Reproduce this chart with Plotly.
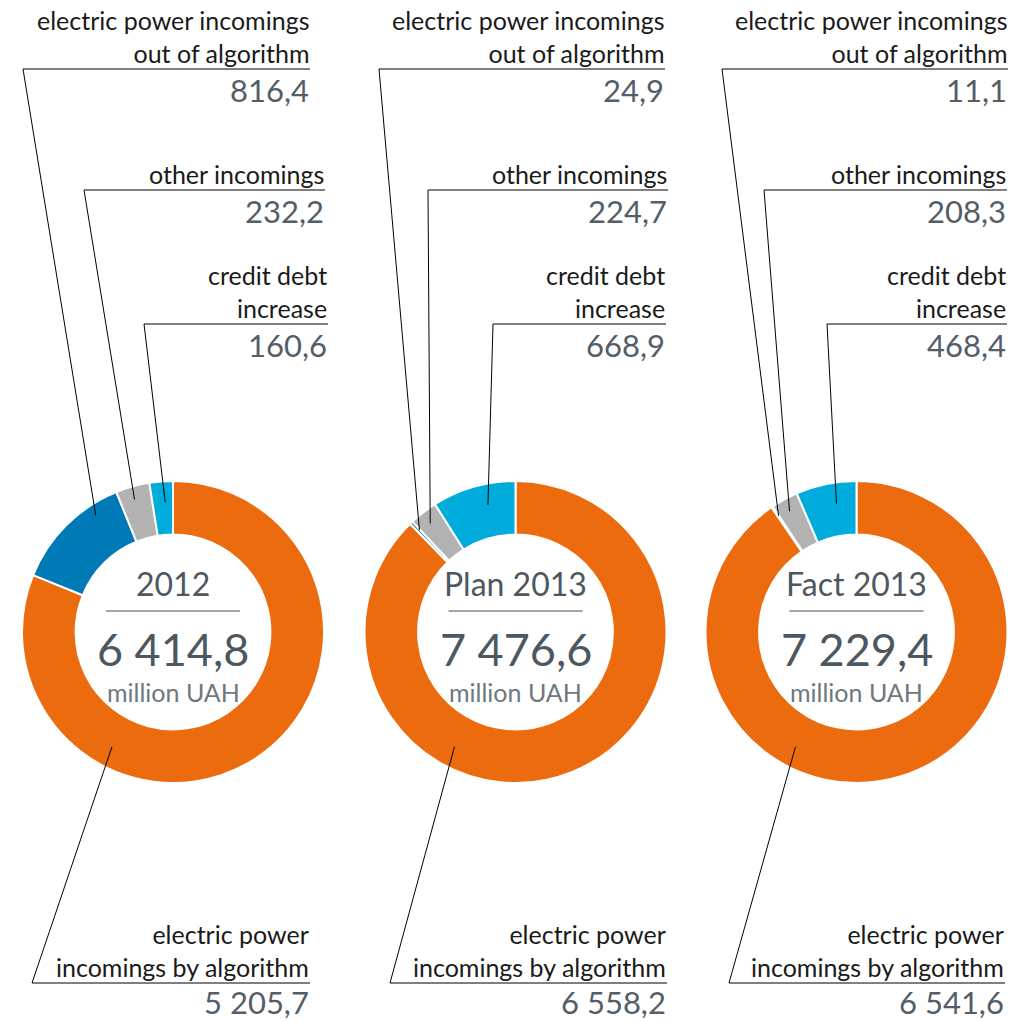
import math
import plotly.graph_objects as go

W, H = 1013, 1021

# ---------------- data ----------------
categories = [
    "electric power incomings by algorithm",
    "electric power incomings out of algorithm",
    "other incomings",
    "credit debt increase",
]
chart_titles = ["2012", "Plan 2013", "Fact 2013"]
chart_totals = [6414.8, 7476.6, 7229.4]
values_2012 = [5205.7, 816.4, 232.2, 160.6]
values_plan_2013 = [6558.2, 24.9, 224.7, 668.9]
values_fact_2013 = [6541.6, 11.1, 208.3, 468.4]
unit_label = "million UAH"
label_lines = [
    ["electric power", "incomings by algorithm"],
    ["electric power incomings", "out of algorithm"],
    ["other incomings"],
    ["credit debt", "increase"],
]

# ---------------- style / layout ----------------
slice_colors = ["#EC6B0E", "#0079B7", "#B1B2B1", "#00ACDB"]
FONT = "Lato"
TEXT_COLOR = "#1A1A1A"
VALUE_COLOR = "#535E68"
TITLE_COLOR = "#4C5760"
UNIT_COLOR = "#6E7880"
DIVIDER_COLOR = "#7E878F"

centers_x = [173, 515.5, 856.5]
center_y = 632
R_OUT = 151
HOLE = 0.645
LABEL_SIZE = 25
LINE_STEP = 1.3 * LABEL_SIZE
# per chart: right edge of labels [by algorithm, out of algorithm, other, credit]
right_edges = [[310, 310, 325, 328], [667, 665, 668, 666], [1005, 1008, 1007, 1007]]
# per chart: left end of underline (leader start)
underline_left = [[32, 23, 84, 144], [390, 379, 428, 493], [729, 722, 764, 827]]
underline_y = [983, 69, 190, 324]
value_offset = [19, 21, 21, 21]
ORANGE_LEADER_ANGLE = 208
# where along each slice (fraction of its sweep) and at what radius the leader ends
LEADER_FRAC = [None, 0.75, 0.45, 0.62]
LEADER_R = [130, 140, 138, 130]


def px(x):
    return x / W


def py(y):
    return 1 - y / H


def fmt(v):
    return f"{v:,.1f}".replace(",", " ").replace(".", ",")


fig = go.Figure()
annotations = []
shapes = []

all_values = [values_2012, values_plan_2013, values_fact_2013]

for c, vals in enumerate(all_values):
    cx = centers_x[c]
    fig.add_trace(go.Pie(
        values=vals,
        labels=categories,
        sort=False,
        direction="clockwise",
        rotation=0,
        hole=HOLE,
        marker=dict(colors=slice_colors, line=dict(color="white", width=2)),
        textinfo="none",
        hoverinfo="label+value",
        showlegend=False,
        domain=dict(x=[px(cx - R_OUT), px(cx + R_OUT)],
                    y=[py(center_y + R_OUT), py(center_y - R_OUT)]),
    ))

    # centre text
    annotations.append(dict(x=px(cx), y=py(583), text=chart_titles[c], showarrow=False,
                            xanchor="center", yanchor="middle",
                            font=dict(family=FONT, size=32, color=TITLE_COLOR)))
    annotations.append(dict(x=px(cx), y=py(649), text=fmt(chart_totals[c]), showarrow=False,
                            xanchor="center", yanchor="middle",
                            font=dict(family=FONT, size=45, color=TITLE_COLOR)))
    annotations.append(dict(x=px(cx), y=py(692), text=unit_label, showarrow=False,
                            xanchor="center", yanchor="middle",
                            font=dict(family=FONT, size=25, color=UNIT_COLOR)))
    shapes.append(dict(type="line", xref="paper", yref="paper",
                       x0=px(cx - 67), x1=px(cx + 67), y0=py(611), y1=py(611),
                       line=dict(color=DIVIDER_COLOR, width=1.5)))

    # slice angles (clockwise from 12 o'clock)
    total = sum(vals)
    start = 0.0
    starts, spans = [], []
    for v in vals:
        span = 360 * v / total
        starts.append(start)
        spans.append(span)
        start += span

    for i, v in enumerate(vals):
        uy = underline_y[i]
        right = right_edges[c][i]
        left = underline_left[c][i]
        lines = label_lines[i]
        n = len(lines)
        # label text block, last line sits just above the underline
        ycen = uy - 16 - LINE_STEP * (n - 1) / 2
        annotations.append(dict(x=px(right), y=py(ycen), text="<br>".join(lines),
                                showarrow=False, xanchor="right", yanchor="middle",
                                align="right", borderpad=0,
                                font=dict(family=FONT, size=LABEL_SIZE, color=TEXT_COLOR)))
        annotations.append(dict(x=px(right), y=py(uy + value_offset[i]), text=fmt(v),
                                showarrow=False, xanchor="right", yanchor="middle",
                                borderpad=0,
                                font=dict(family=FONT, size=31, color=VALUE_COLOR)))
        # underline
        shapes.append(dict(type="line", xref="paper", yref="paper",
                           x0=px(left), x1=px(right), y0=py(uy), y1=py(uy),
                           line=dict(color="#000000", width=1)))
        # leader
        if LEADER_FRAC[i] is None:
            ang = ORANGE_LEADER_ANGLE
        else:
            ang = starts[i] + LEADER_FRAC[i] * spans[i]
        r = LEADER_R[i]
        ex = cx + r * math.sin(math.radians(ang))
        ey = center_y - r * math.cos(math.radians(ang))
        shapes.append(dict(type="line", xref="paper", yref="paper",
                           x0=px(left), x1=px(ex), y0=py(uy), y1=py(ey),
                           line=dict(color="#000000", width=1)))

fig.update_layout(
    width=W, height=H,
    margin=dict(l=0, r=0, t=0, b=0),
    paper_bgcolor="white",
    plot_bgcolor="white",
    annotations=annotations,
    shapes=shapes,
    showlegend=False,
)

fig.write_html(
    "out.html",
    config={"displayModeBar": False},
    post_script="document.body.style.margin='0';document.body.style.padding='0';",
)
